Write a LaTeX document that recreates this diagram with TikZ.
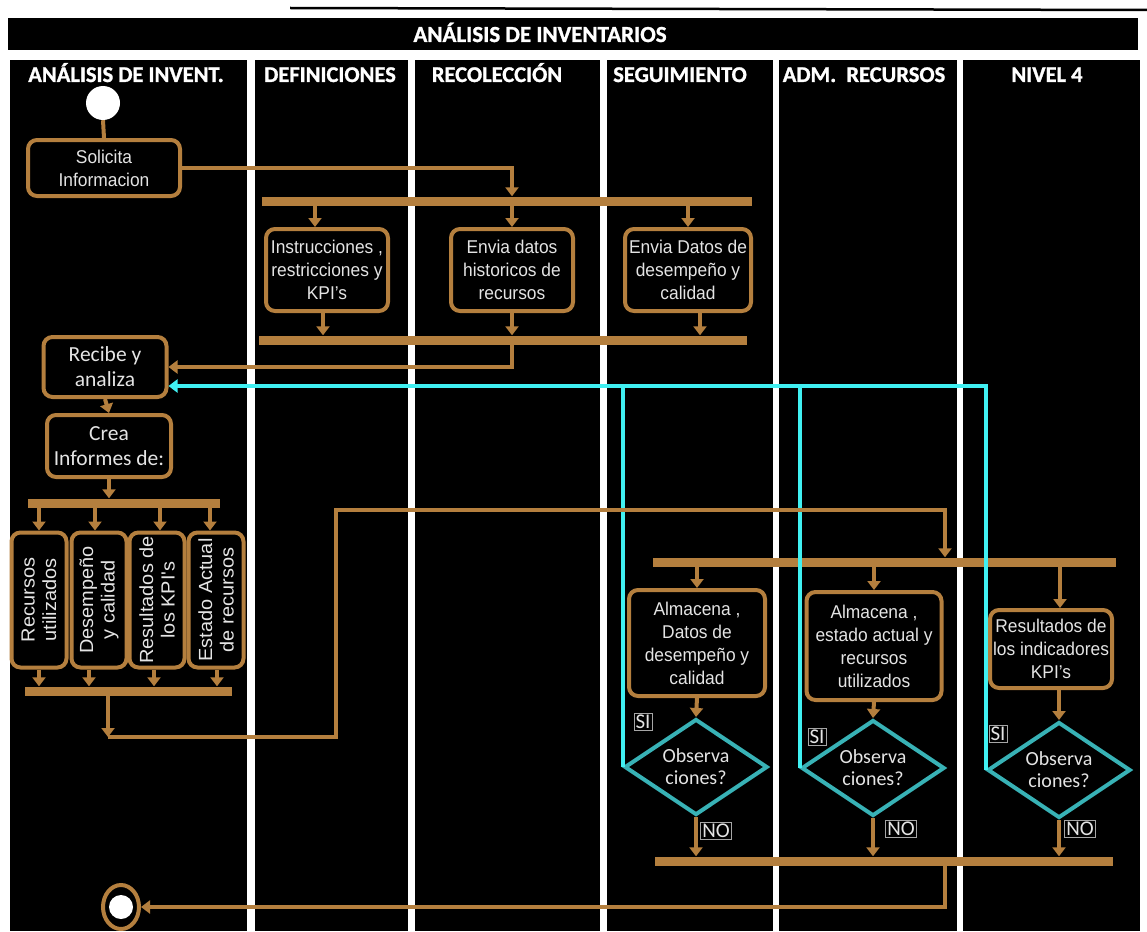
\documentclass[tikz,border=0pt]{standalone}
\usepackage{fontspec}
\setmainfont[FakeStretch=0.94]{Liberation Sans}
\newfontfamily\calfont{Carlito}
\newfontfamily\hdrfont[FakeBold=1.2]{Carlito Bold}
\newfontfamily\vfont[FakeStretch=1.05]{Liberation Sans}
\usetikzlibrary{arrows.meta,shapes.geometric}

\definecolor{tanc}{RGB}{180,127,62}
\definecolor{cyanl}{RGB}{64,240,242}
\definecolor{tealc}{RGB}{56,178,182}
\definecolor{txt}{RGB}{228,228,228}

\begin{document}
\begin{tikzpicture}[x=1pt,y=-1pt,
  lanehdr/.style={text=white, font=\hdrfont\fontsize{22.5}{24}\selectfont, inner sep=0pt, anchor=base},
  box/.style={draw=tanc, line width=4pt, rounded corners=9pt, fill=black, text=txt,
              align=center, inner sep=1pt, font=\fontsize{18.5}{23}\selectfont},
  cbox/.style={box, font=\calfont\fontsize{21.5}{25}\selectfont},
  vbox/.style={box, rotate=90, minimum width=135pt, minimum height=55pt,
               font=\vfont\fontsize{19}{21.5}\selectfont},
  bar/.style={fill=tanc, inner sep=0pt, minimum height=9pt},
  conn/.style={draw=tanc, line width=4pt},
  arr/.style={conn, -{Triangle[width=13pt,length=9pt]}},
  cyanconn/.style={draw=cyanl, line width=4pt},
  decision/.style={diamond, draw=tealc, line width=4pt, fill=black, text=txt, align=center,
                   inner sep=0pt, aspect=1.5, minimum width=143pt, minimum height=96pt,
                   font=\calfont\fontsize{20}{22}\selectfont},
  tag/.style={draw=gray!70, line width=0.8pt, text=txt, inner sep=1.5pt,
              font=\calfont\fontsize{21}{22}\selectfont}
]
\useasboundingbox (0,0) rectangle (1147,931);
\fill[white] (0,0) rectangle (1147,931);

% title band and thin rule above it
\draw[line width=2.5pt] (290,8) -- (1147,10);
\fill[black] (8,18) rectangle (1138,50);
\node[lanehdr, font=\hdrfont\fontsize{23}{25}\selectfont] (title) at (540,42) {ANÁLISIS DE INVENTARIOS};

% swimlanes
\fill[black] (10,60) rectangle (247,931);
\fill[black] (255,60) rectangle (408,931);
\fill[black] (415,60) rectangle (600,931);
\fill[black] (607,60) rectangle (773,931);
\fill[black] (779,60) rectangle (957,931);
\fill[black] (963,60) rectangle (1140,931);

\node[lanehdr] (h1) at (126,82) {ANÁLISIS DE INVENT.};
\node[lanehdr] (h2) at (330,82) {DEFINICIONES};
\node[lanehdr] (h3) at (497,82) {RECOLECCIÓN};
\node[lanehdr] (h4) at (680,82) {SEGUIMIENTO};
\node[lanehdr] (h5) at (864,82) {ADM.\ \ RECURSOS};
\node[lanehdr] (h6) at (1047,82) {NIVEL 4};

% start / end
\node[circle, fill=white, minimum size=34pt, inner sep=0pt] (start) at (103,103) {};
\node[ellipse, draw=tanc, line width=4pt, fill=black, minimum width=36pt, minimum height=44pt, inner sep=0pt] (endo) at (121,907) {};
\node[circle, fill=white, minimum size=24pt, inner sep=0pt] (endi) at (121,907) {};

% activities
\node[box, minimum width=152pt, minimum height=56pt] (solic) at (104,168) {Solicita\\Informacion};
\node[bar, minimum width=490pt] (bar1) at (507,201) {};
\node[box, minimum width=122pt, minimum height=82pt] (instr) at (327,270) {Instrucciones ,\\restricciones y\\KPI's};
\node[box, minimum width=122pt, minimum height=82pt] (env1) at (512,270) {Envia datos\\historicos de\\recursos};
\node[box, minimum width=126pt, minimum height=82pt] (env2) at (688,270) {Envia Datos de\\desempeño y\\calidad};
\node[bar, minimum width=488pt] (bar2) at (503,340) {};

\node[cbox, minimum width=123pt, minimum height=60pt] (recibe) at (105,367) {Recibe y\\analiza};
\node[cbox, minimum width=124pt, minimum height=62pt] (crea) at (109,446) {Crea\\Informes de:};
\node[bar, minimum width=192pt] (bar3) at (124,503) {};
\node[vbox] (vb1) at (39,600) {Recursos\\utilizados};
\node[vbox] (vb2) at (99,600) {Desempeño\\y calidad};
\node[vbox] (vb3) at (157,600) {Resultados de\\los KPI's};
\node[vbox] (vb4) at (216,600) {Estado Actual\\de recursos};
\node[bar, minimum width=207pt] (bar4) at (128,691) {};

\node[bar, minimum width=463pt] (bar5) at (884,562) {};
\node[box, minimum width=136pt, minimum height=106pt] (alm1) at (697,643) {Almacena ,\\Datos de\\desempeño y\\calidad};
\node[box, minimum width=135pt, minimum height=108pt] (alm2) at (874,646) {Almacena ,\\estado actual y\\recursos\\utilizados};
\node[box, minimum width=122pt, minimum height=78pt] (res) at (1051,649) {Resultados de\\los indicadores\\KPI's};

\node[decision] (d1) at (696,767) {Observa\\ciones?};
\node[decision] (d2) at (873,768) {Observa\\ciones?};
\node[decision] (d3) at (1059,770) {Observa\\ciones?};
\node[bar, minimum width=458pt] (bar6) at (884,861) {};

\node[tag] (si1) at (643,722) {SI};
\node[tag] (si2) at (817,737) {SI};
\node[tag] (si3) at (998,734) {SI};
\node[tag] (no1) at (716,831) {NO};
\node[tag] (no2) at (901,829) {NO};
\node[tag] (no3) at (1080,829) {NO};

% routing points
\coordinate (cy) at (0,386);
\coordinate (lp1) at (108,737);
\coordinate (lp2) at (336,737);
\coordinate (lp3) at (336,510);
\coordinate (lp4) at (945,510);
\coordinate (ep) at (945,907);

% feedback path for observations (SI)
\draw[cyanconn] (d1.west) -- (d1.west |- cy);
\draw[cyanconn] (d2.west) -- (d2.west |- cy);
\draw[cyanconn, -{Triangle[width=13pt,length=9pt]}] (d3.west) -- (d3.west |- cy) -- (recibe.east |- cy);

% connectors
\draw[conn] (start.south) -- (solic.north);
\draw[arr] (solic.east) -- (solic.east -| env1) -- (bar1.north -| env1);
\draw[arr] (bar1.south -| 315,0) -- (instr.north -| 315,0);
\draw[arr] (bar1.south -| env1) -- (env1.north);
\draw[arr] (bar1.south -| env2) -- (env2.north);
\draw[arr] (instr.south -| 323,0) -- (bar2.north -| 323,0);
\draw[arr] (env1.south) -- (bar2.north -| env1);
\draw[arr] (env2.south -| 700,0) -- (bar2.north -| 700,0);
\draw[arr] (bar2.south -| env1) -- (env1 |- recibe) -- (recibe.east);

\draw[arr] (recibe.south) -- (crea.north);
\draw[arr] (crea.south) -- (bar3.north -| crea);
\draw[arr] (bar3.south -| vb1) -- (vb1.east);
\draw[arr] (bar3.south -| 95,0) -- (vb2.east -| 95,0);
\draw[arr] (bar3.south -| 160,0) -- (vb3.east -| 160,0);
\draw[arr] (bar3.south -| 210,0) -- (vb4.east -| 210,0);
\draw[arr] (vb1.west) -- (bar4.north -| vb1);
\draw[arr] (vb2.west -| 89,0) -- (bar4.north -| 89,0);
\draw[arr] (vb3.west -| 154,0) -- (bar4.north -| 154,0);
\draw[arr] (vb4.west -| 217,0) -- (bar4.north -| 217,0);
\draw[arr] (bar4.south -| lp1) -- (lp1);
\draw[arr] (lp1) -- (lp2) -- (lp3) -- (lp4) -- (bar5.north -| lp4);

\draw[arr] (bar5.south -| alm1) -- (alm1.north);
\draw[arr] (bar5.south -| alm2) -- (alm2.north);
\draw[arr] (bar5.south -| 1060,0) -- (res.north -| 1060,0);
\draw[arr] (alm1.south) -- (d1.north);
\draw[arr] (alm2.south) -- (d2.north);
\draw[arr] (res.south -| d3) -- (d3.north);
\draw[arr] (d1.south) -- (bar6.north -| d1);
\draw[arr] (d2.south) -- (bar6.north -| d2);
\draw[arr] (d3.south) -- (bar6.north -| d3);
\draw[arr] (bar6.south -| ep) -- (ep) -- (endo.east);
\end{tikzpicture}
\end{document}
